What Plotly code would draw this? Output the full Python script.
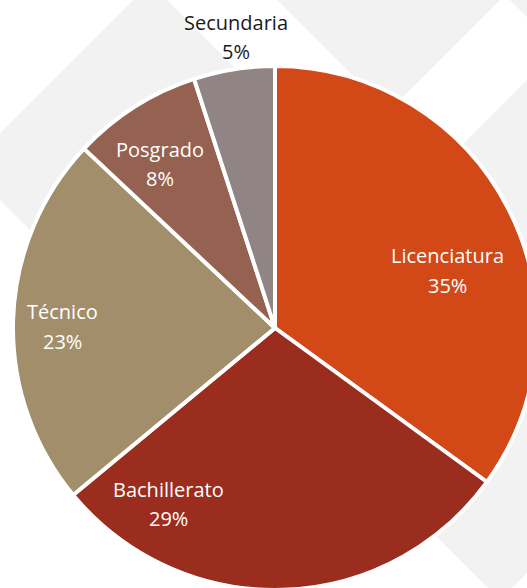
import plotly.graph_objects as go

# datos del grafico
niveles = ["Licenciatura", "Bachillerato", "Técnico", "Posgrado", "Secundaria"]
porcentajes = [35, 29, 23, 8, 5]
colores = ["#D34817", "#9B2D1F", "#A28E6A", "#956251", "#918485"]

# where each label sits (pixel centre of the name line), like Excel's best fit
pos_etiquetas = [(447, 256), (168, 489), (62, 312), (160, 149), (236, 22)]
color_etiqueta = ["white", "white", "white", "white", "#1a1a1a"]
salto = 29  # px between name and percent line

# the figure is a bit larger than the window so the pie can run off the edges
W, H = 560, 620


def to_paper(pts):
    return [(x / W, 1 - y / H) for x, y in pts]


def diamond(u0, u1, v0, v1):
    # band in rotated coords (u = x + y, v = x - y), pixel space
    corners = [(u0, v0), (u0, v1), (u1, v1), (u1, v0)]
    pts = [((u + v) / 2, (u - v) / 2) for u, v in corners]
    pp = to_paper(pts)
    return "M " + " L ".join(f"{x:.4f},{y:.4f}" for x, y in pp) + " Z"


fondo = [
    diamond(133, 500, -200, 167),
    diamond(133, 500, 277, 644),
    diamond(607, 1100, -100, 480),
    diamond(500, 1100, 510, 1000),
]

fig = go.Figure()
fig.add_trace(go.Pie(
    labels=niveles,
    values=porcentajes,
    sort=False,
    direction="clockwise",
    rotation=0,
    marker=dict(colors=colores, line=dict(color="white", width=4)),
    textinfo="none",
    hoverinfo="label+percent",
    showlegend=False,
    domain=dict(x=[13 / W, 537 / W], y=[1 - 590 / H, 1 - 66 / H]),
))

total = sum(porcentajes)
anots = []
for nombre, val, (px, py), col in zip(niveles, porcentajes, pos_etiquetas, color_etiqueta):
    pct = f"{round(100 * val / total)}%"
    for i, txt in enumerate([nombre, pct]):
        anots.append(dict(
            text=txt, x=px / W, y=1 - (py + i * salto) / H,
            xref="paper", yref="paper", xanchor="center", yanchor="middle",
            showarrow=False,
            font=dict(family="Open Sans", size=20, color=col),
        ))

fig.update_layout(
    width=W,
    height=H,
    margin=dict(l=0, r=0, t=0, b=0),
    paper_bgcolor="white",
    plot_bgcolor="white",
    font=dict(family="Open Sans", color="#1a1a1a"),
    annotations=anots,
    shapes=[
        dict(type="path", path=p, xref="paper", yref="paper",
             fillcolor="#F2F2F2", line=dict(width=0), layer="below")
        for p in fondo
    ],
)

fig.write_html(
    "out.html",
    config={"displayModeBar": False},
    post_script="document.body.style.margin='0';"
                "document.body.style.overflow='hidden';"
                "document.documentElement.style.overflow='hidden';",
)
